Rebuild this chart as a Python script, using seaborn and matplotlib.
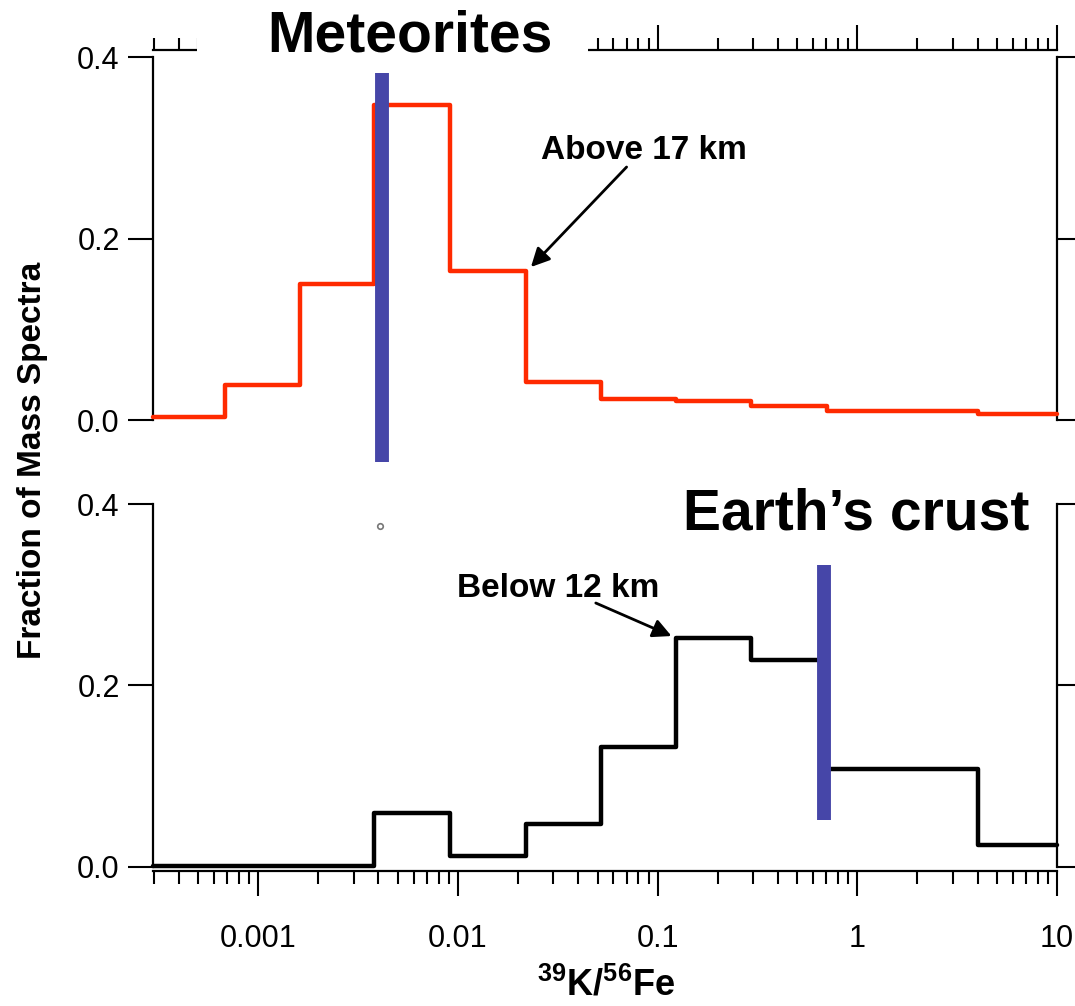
import matplotlib
matplotlib.use("Agg")
import matplotlib.pyplot as plt
import matplotlib.patches as mpatches
from matplotlib import font_manager
from matplotlib.ticker import LogLocator, NullFormatter, FixedLocator, FuncFormatter
import numpy as np
import seaborn as sns

# ── data ─────────────────────────────────────────────────────────────────────
bin_edges = [2.97e-4, 6.8e-4, 1.61e-3, 3.82e-3, 9.15e-3, 0.0219, 0.0519,
             0.124, 0.294, 0.705, 1.69, 4.0, 10.0]
meteorite_frac = [0.003, 0.039, 0.150, 0.347, 0.164, 0.042, 0.023,
                  0.021, 0.015, 0.010, 0.010, 0.007]
crust_frac = [0.001, 0.001, 0.001, 0.060, 0.012, 0.047, 0.132,
              0.252, 0.228, 0.108, 0.108, 0.024]
meteorite_ref = 0.00418   # blue bar, top panel
crust_ref = 0.681         # blue bar, bottom panel
x_ticks = [0.001, 0.01, 0.1, 1, 10]
x_tick_labels = ["0.001", "0.01", "0.1", "1", "10"]
y_ticks = [0.0, 0.2, 0.4]

RED = "#ff2a00"
BLUE = "#4646a8"

names = {f.name for f in font_manager.fontManager.ttflist}
FONT = "Liberation Sans Narrow" if "Liberation Sans Narrow" in names else "Liberation Sans"

sns.set_style("white")
plt.rcParams["font.family"] = [FONT, "DejaVu Sans"]
plt.rcParams["text.color"] = "black"
plt.rcParams["axes.labelcolor"] = "black"
plt.rcParams["xtick.color"] = "black"
plt.rcParams["ytick.color"] = "black"
plt.rcParams["mathtext.fontset"] = "custom"
plt.rcParams["mathtext.rm"] = FONT
plt.rcParams["mathtext.bf"] = FONT + ":bold"

fig = plt.figure(figsize=(10.75, 10.06), dpi=100)
ax_top = fig.add_axes([0.1423, 0.5825, 0.8410, 0.3608])
ax_bot = fig.add_axes([0.1423, 0.1382, 0.8410, 0.3608])


def step_panel(ax, vals, color):
    ys = list(vals) + [vals[-1]]
    sns.lineplot(x=bin_edges, y=ys, drawstyle="steps-post", color=color,
                 lw=3.2, ax=ax, zorder=4, clip_on=False, sort=False,
                 estimator=None)
    ax.set_xscale("log")
    ax.set_xlim(bin_edges[0], bin_edges[-1])
    ax.set_ylim(0, 0.4)
    ax.set_xlabel("")
    ax.set_ylabel("")
    ax.yaxis.set_major_locator(FixedLocator(y_ticks))
    ax.yaxis.set_major_formatter(FuncFormatter(lambda v, p: f"{v:.1f}"))
    ax.tick_params(axis="y", which="major", direction="out", length=18,
                   width=1.5, color="black", labelcolor="black", left=True,
                   right=True, labelleft=True, labelright=False,
                   labelsize=22, pad=6)
    for side in ["left", "right"]:
        ax.spines[side].set_color("black")
        ax.spines[side].set_linewidth(1.6)
    ax.patch.set_alpha(0)


step_panel(ax_top, meteorite_frac, RED)
step_panel(ax_bot, crust_frac, "black")

# top panel: x axis on top, shifted outward, no labels
ax_top.spines["bottom"].set_visible(False)
ax_top.spines["top"].set_position(("outward", 5))
ax_top.spines["top"].set_linewidth(1.6)
ax_top.spines["top"].set_color("black")
ax_top.xaxis.set_ticks_position("top")
for ax in (ax_top, ax_bot):
    ax.xaxis.set_major_locator(FixedLocator(x_ticks))
    ax.xaxis.set_minor_locator(LogLocator(base=10, subs=np.arange(2, 10), numticks=20))
    ax.xaxis.set_minor_formatter(NullFormatter())
ax_top.tick_params(axis="x", which="major", direction="out", length=18,
                   width=1.5, labeltop=False, labelbottom=False)
ax_top.tick_params(axis="x", which="minor", direction="out", length=9,
                   width=1.5, labeltop=False, labelbottom=False)

# bottom panel: x axis at bottom
ax_bot.spines["top"].set_visible(False)
ax_bot.spines["bottom"].set_position(("outward", 3))
ax_bot.spines["bottom"].set_linewidth(1.6)
ax_bot.spines["bottom"].set_color("black")
ax_bot.xaxis.set_ticks_position("bottom")
ax_bot.set_xticklabels(x_tick_labels)
ax_bot.tick_params(axis="x", which="major", direction="out", length=18,
                   width=1.5, labelsize=22, labelcolor="black", pad=20)
ax_bot.tick_params(axis="x", which="minor", direction="out", length=9, width=1.5)

# blue reference bars
ax_top.plot([meteorite_ref, meteorite_ref], [-0.046, 0.382], color=BLUE,
            lw=10, solid_capstyle="butt", clip_on=False, zorder=6)
ax_bot.plot([crust_ref, crust_ref], [0.052, 0.333], color=BLUE,
            lw=10, solid_capstyle="butt", clip_on=False, zorder=6)
ax_bot.plot([0.00409], [0.376], marker="o", ms=4, mfc="white", mec="#777777",
            mew=1.2, clip_on=False)

# white patch hiding the top axis behind the title
ax_top.add_patch(mpatches.Rectangle((0.1833, 0.9473), 0.3637, 0.0328,
                                    transform=fig.transFigure, fc="white",
                                    ec="none", clip_on=False, zorder=3))

# annotations
ax_top.annotate("", xy=(0.0232, 0.1686), xytext=(0.0699, 0.2788),
                arrowprops=dict(arrowstyle="-|>", color="black", lw=2,
                                mutation_scale=28, shrinkA=0, shrinkB=0),
                zorder=7)
fig.text(644 / 1075, 1 - 159 / 1006, "Above 17 km", ha="center",
         va="baseline", fontsize=24, fontweight="bold")
ax_bot.annotate("", xy=(0.1173, 0.2545), xytext=(0.049, 0.2909),
                arrowprops=dict(arrowstyle="-|>", color="black", lw=2,
                                mutation_scale=28, shrinkA=0, shrinkB=0),
                zorder=7)
fig.text(558 / 1075, 1 - 597 / 1006, "Below 12 km", ha="center",
         va="baseline", fontsize=24, fontweight="bold")

# panel titles
fig.text(267 / 1075, 1 - 52 / 1006, "Meteorites", ha="left", va="baseline",
         fontsize=41, fontweight="bold", zorder=10)
fig.text(683 / 1075, 1 - 530 / 1006, "Earth\u2019s crust", ha="left",
         va="baseline", fontsize=41, fontweight="bold")

# axis labels
fig.text(0.030, 1 - 460 / 1006, "Fraction of Mass Spectra", rotation=90,
         ha="center", va="center", fontsize=24, fontweight="bold")
fig.text(606 / 1075, 1 - 996 / 1006,
         r"$^{\mathbf{39}}$K/$^{\mathbf{56}}$Fe", ha="center", va="baseline",
         fontsize=26, fontweight="bold")

fig.savefig("out.png", dpi=100)
